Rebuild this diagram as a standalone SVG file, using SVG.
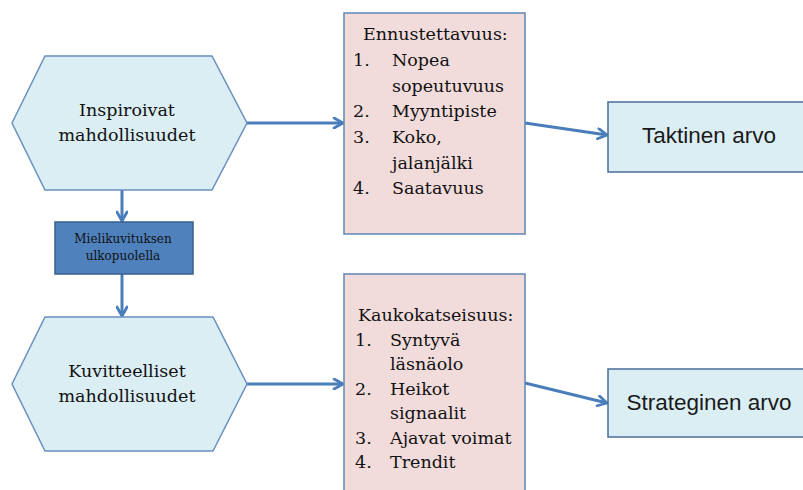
<svg xmlns="http://www.w3.org/2000/svg" width="803" height="490" viewBox="0 0 803 490">
  <defs>
    <marker id="open-arrow" viewBox="0 0 10 10" refX="8.6" refY="5" markerWidth="4.2" markerHeight="4.2" orient="auto" markerUnits="strokeWidth">
      <path d="M1.5,1 L8.6,5 L1.5,9" fill="none" stroke="#4a7ebb" stroke-width="2.2" stroke-linecap="round" stroke-linejoin="round"/>
    </marker>
    <style>
      .hex { fill: #dbeef4; stroke: #6a8fc0; stroke-width: 1.5; }
      .list { fill: #f2dcdb; stroke: #5f87b8; stroke-width: 1.5; }
      .value { fill: #dbeef4; stroke: #4a6c99; stroke-width: 1.5; }
      .dark { fill: #4f81bd; stroke: #385d8a; stroke-width: 1.5; }
      .serif { font-family: "DejaVu Serif", "Liberation Serif", serif; fill: #111; }
      .big { font-size: 17.5px; }
      .small { font-size: 12px; }
      .sans { font-family: "Liberation Sans", Arial, sans-serif; font-size: 22.5px; fill: #1a1a1a; }
      .conn { fill: none; stroke: #4a7ebb; stroke-width: 3; marker-end: url(#open-arrow); }
    </style>
  </defs>

  <rect width="803" height="490" fill="#ffffff"/>

  <!-- connectors -->
  <g id="connectors">
    <line class="conn" x1="247" y1="123" x2="343" y2="123"/>
    <line class="conn" x1="122" y1="190" x2="122" y2="221"/>
    <line class="conn" x1="122" y1="274" x2="122" y2="316"/>
    <line class="conn" x1="247" y1="384" x2="343" y2="384"/>
    <line class="conn" x1="525" y1="123" x2="607" y2="135"/>
    <line class="conn" x1="525" y1="383" x2="607" y2="403"/>
  </g>

  <!-- upper hexagon -->
  <g id="inspiroivat">
    <polygon class="hex" points="12,123 45,56 212,56 247,123 212,190 45,190"/>
    <text class="serif big" text-anchor="middle" x="127" y="116">Inspiroivat</text>
    <text class="serif big" text-anchor="middle" x="127" y="141">mahdollisuudet</text>
  </g>

  <!-- small box between hexagons -->
  <g id="mielikuvituksen">
    <rect class="dark" x="55" y="222" width="138" height="52"/>
    <text class="serif small" text-anchor="middle" x="123" y="243">Mielikuvituksen</text>
    <text class="serif small" text-anchor="middle" x="123" y="260">ulkopuolella</text>
  </g>

  <!-- lower hexagon -->
  <g id="kuvitteelliset">
    <polygon class="hex" points="12,384 45,317 213,317 247,384 213,451 45,451"/>
    <text class="serif big" text-anchor="middle" x="127" y="377">Kuvitteelliset</text>
    <text class="serif big" text-anchor="middle" x="127" y="402">mahdollisuudet</text>
  </g>

  <!-- upper list box -->
  <g id="ennustettavuus">
    <rect class="list" x="344" y="13" width="181" height="221"/>
    <g class="serif big">
      <text x="363" y="40">Ennustettavuus:</text>
      <text x="353" y="66">1.</text><text x="392" y="66">Nopea</text>
      <text x="392" y="92">sopeutuvuus</text>
      <text x="353" y="117">2.</text><text x="392" y="117">Myyntipiste</text>
      <text x="353" y="143">3.</text><text x="392" y="143">Koko,</text>
      <text x="392" y="169">jalanjälki</text>
      <text x="353" y="194">4.</text><text x="392" y="194">Saatavuus</text>
    </g>
  </g>

  <!-- lower list box -->
  <g id="kaukokatseisuus">
    <rect class="list" x="344" y="274" width="181" height="230"/>
    <g class="serif big">
      <text x="358" y="321">Kaukokatseisuus:</text>
      <text x="355" y="346">1.</text><text x="390" y="346">Syntyvä</text>
      <text x="390" y="370">läsnäolo</text>
      <text x="355" y="395">2.</text><text x="390" y="395">Heikot</text>
      <text x="390" y="419">signaalit</text>
      <text x="355" y="444">3.</text><text x="390" y="444">Ajavat voimat</text>
      <text x="355" y="468">4.</text><text x="390" y="468">Trendit</text>
    </g>
  </g>

  <!-- value boxes -->
  <g id="taktinen">
    <rect class="value" x="608" y="102" width="202" height="70"/>
    <text class="sans" text-anchor="middle" x="709" y="143">Taktinen arvo</text>
  </g>

  <g id="strateginen">
    <rect class="value" x="608" y="369" width="202" height="68"/>
    <text class="sans" text-anchor="middle" x="709" y="410">Strateginen arvo</text>
  </g>
</svg>
